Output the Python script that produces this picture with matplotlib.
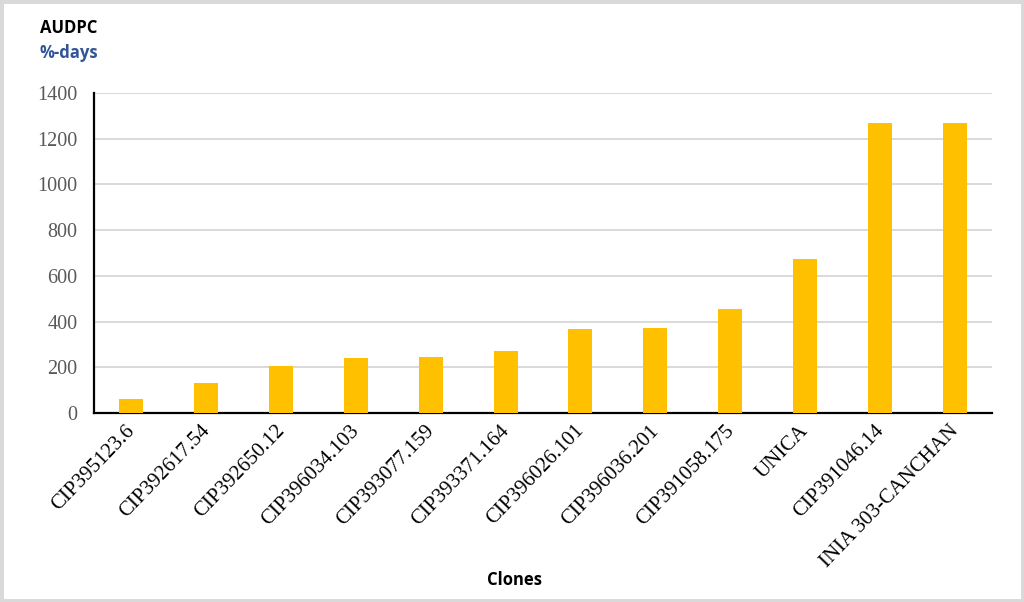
import matplotlib
matplotlib.use("Agg")
import matplotlib.pyplot as plt
from matplotlib.patches import Rectangle
import matplotlib.transforms as mtransforms

clones = ["CIP395123.6", "CIP392617.54", "CIP392650.12", "CIP396034.103",
          "CIP393077.159", "CIP393371.164", "CIP396026.101", "CIP396036.201",
          "CIP391058.175", "UNICA", "CIP391046.14", "INIA 303-CANCHAN"]
audpc = [60, 132, 205, 240, 245, 272, 366, 372, 455, 672, 1268, 1270]
yticks = [0, 200, 400, 600, 800, 1000, 1200, 1400]

fig = plt.figure(figsize=(10.24, 6.02), dpi=100)
ax = fig.add_axes([94/1024, 1 - 413/602, (992-94)/1024, (413-93)/602])

x = list(range(len(clones)))
ax.bar(x, audpc, width=0.32, color="#FFC000", zorder=3)
ax.set_xlim(-0.5, len(clones) - 0.5)
ax.set_ylim(0, 1400)
ax.set_yticks(yticks)
ax.set_yticklabels([str(t) for t in yticks], fontfamily="Liberation Serif",
                   fontsize=14.5, color="#595959")
ax.set_xticks(x)
ax.set_xticklabels(clones, rotation=46, ha="right", va="top",
                   rotation_mode="anchor", fontfamily="Liberation Serif",
                   fontsize=15, color="black")
ax.tick_params(axis="both", length=0)
ax.tick_params(axis="y", pad=12)
ax.tick_params(axis="x", pad=6)
offset = mtransforms.ScaledTranslation(-6/100, 0, fig.dpi_scale_trans)
for lab in ax.get_xticklabels():
    lab.set_transform(lab.get_transform() + offset)
ax.grid(axis="y", color="#d9d9d9", linewidth=1.4, zorder=0)
for s in ["top", "right"]:
    ax.spines[s].set_visible(False)
ax.spines["left"].set_linewidth(1.6)
ax.spines["bottom"].set_linewidth(1.6)
ax.spines["left"].set_color("black")
ax.spines["bottom"].set_color("black")

fig.text(40/1024, 1 - 28/602, "AUDPC", fontfamily="Open Sans", fontweight="bold",
         fontsize=12, color="black", va="center", ha="left")
fig.text(40/1024, 1 - 53/602, "%-days", fontfamily="Open Sans", fontweight="bold",
         fontsize=12, color="#2F5597", va="center", ha="left")
fig.text(515/1024, 1 - 580/602, "Clones", fontfamily="Open Sans", fontweight="bold",
         fontsize=12, color="black", va="center", ha="center")

fig.patches.append(Rectangle((0, 0), 1, 1, transform=fig.transFigure, fill=False,
                             edgecolor="#d9d9d9", linewidth=5))
fig.savefig("out.png", dpi=100)
